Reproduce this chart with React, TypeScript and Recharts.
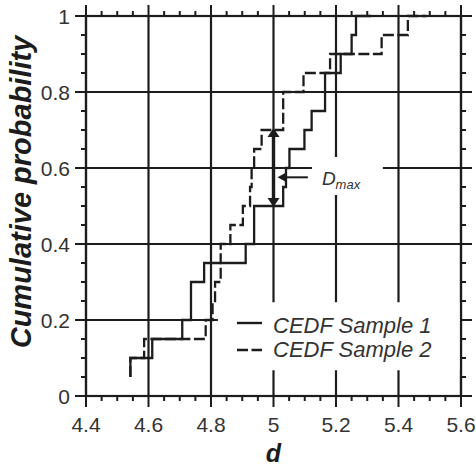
import React from "react";
import {
  LineChart,
  Line,
  XAxis,
  YAxis,
  CartesianGrid,
  ReferenceArea,
  ReferenceLine,
  Legend,
} from "recharts";

// sorted sample values (20 each)
const sample1 = [
  4.542, 4.542, 4.612, 4.708, 4.736, 4.736, 4.778, 4.911, 4.938, 4.938,
  5.031, 5.04, 5.051, 5.099, 5.122, 5.165, 5.165, 5.215, 5.25, 5.264,
];
const sample2 = [
  4.542, 4.542, 4.586, 4.783, 4.805, 4.813, 4.831, 4.831, 4.862, 4.902,
  4.925, 4.93, 4.938, 4.962, 5.031, 5.031, 5.096, 5.181, 5.346, 5.43,
];
const cedfLevels = [
  0.05, 0.1, 0.15, 0.2, 0.25, 0.3, 0.35, 0.4, 0.45, 0.5,
  0.55, 0.6, 0.65, 0.7, 0.75, 0.8, 0.85, 0.9, 0.95, 1,
];
// where each curve stops drawing at 1.0
const tail1 = 5.312;
const tail2 = 5.49;

// Dmax: gap between the two curves at d = 5
const dmaxAt = 5;
const dmaxLow = 0.5;
const dmaxHigh = 0.7;

const X_MIN = 4.4;
const X_MAX = 5.6;
const xTicks = [4.4, 4.6, 4.8, 5, 5.2, 5.4, 5.6];
const yTicks = [0, 0.2, 0.4, 0.6, 0.8, 1];
const xMinor = Array.from({ length: 25 }, (_, i) => +(4.4 + i * 0.05).toFixed(2));
const yMinor = Array.from({ length: 21 }, (_, i) => +(i * 0.05).toFixed(2));

const INK = "#1c1c1c";
const TEXT = "#333";
const FONT = "'Liberation Sans', Arial, sans-serif";

const cedf1 = sample1.map((d, i) => ({ d, p: cedfLevels[i] })).concat({ d: tail1, p: 1 });
const cedf2 = sample2.map((d, i) => ({ d, p: cedfLevels[i] })).concat({ d: tail2, p: 1 });

const isMajor = (v: number) => Math.abs(v * 5 - Math.round(v * 5)) < 1e-6;
const fmt = (v: number) => String(+v.toFixed(1));

// frame: outward ticks, tick labels and axis titles. The segment spans the
// plot corners, so its end points give the scale.
function Frame(props: any) {
  const left = Math.min(Number(props.x1), Number(props.x2));
  const right = Math.max(Number(props.x1), Number(props.x2));
  const top = Math.min(Number(props.y1), Number(props.y2));
  const bottom = Math.max(Number(props.y1), Number(props.y2));
  const px = (v: number) => left + ((v - X_MIN) / (X_MAX - X_MIN)) * (right - left);
  const py = (v: number) => bottom - v * (bottom - top);
  const marks: React.ReactNode[] = [];
  xMinor.forEach((v, i) => {
    const len = isMajor(v) ? 11 : 5;
    const x = px(v);
    marks.push(<line key={`b${i}`} x1={x} x2={x} y1={bottom} y2={bottom + len} stroke={INK} strokeWidth={2} />);
    marks.push(<line key={`t${i}`} x1={x} x2={x} y1={top} y2={top - len} stroke={INK} strokeWidth={2} />);
  });
  yMinor.forEach((v, i) => {
    const len = isMajor(v) ? 11 : 5;
    const y = py(v);
    marks.push(<line key={`l${i}`} x1={left} x2={left - len} y1={y} y2={y} stroke={INK} strokeWidth={2} />);
    marks.push(<line key={`r${i}`} x1={right} x2={right + len} y1={y} y2={y} stroke={INK} strokeWidth={2} />);
  });
  return (
    <g fontFamily={FONT}>
      <rect x={left} y={top} width={right - left} height={bottom - top} fill="none" stroke={INK} strokeWidth={2.2} />
      {marks}
      {xTicks.map((v) => (
        <text key={`x${v}`} x={px(v)} y={bottom + 35.5} textAnchor="middle" fontSize={21} fill={TEXT}>
          {fmt(v)}
        </text>
      ))}
      {yTicks.map((v) => (
        <text key={`y${v}`} x={left - 16} y={py(v) + 7.5} textAnchor="end" fontSize={21} fill={TEXT}>
          {fmt(v)}
        </text>
      ))}
      <text x={(left + right) / 2} y={bottom + 66} textAnchor="middle" fontSize={25} fontWeight="bold" fontStyle="italic" fill={INK}>
        d
      </text>
      <text
        transform={`translate(${left - 55}, ${(top + bottom) / 2 - 14}) rotate(-90)`}
        textAnchor="middle"
        fontSize={29}
        fontWeight="bold"
        fontStyle="italic"
        fill={INK}
      >
        Cumulative probability
      </text>
    </g>
  );
}

function DoubleArrow(props: any) {
  const { x1, y1, y2 } = props;
  const top = Math.min(y1, y2) - 2;
  const bot = Math.max(y1, y2) + 1;
  const hw = 6;
  const hh = 9;
  return (
    <g>
      <line x1={x1} x2={x1} y1={top + hh} y2={bot - hh} stroke={INK} strokeWidth={3.4} />
      <polygon points={`${x1},${top} ${x1 - hw},${top + hh} ${x1 + hw},${top + hh}`} fill={INK} />
      <polygon points={`${x1},${bot} ${x1 - hw},${bot - hh} ${x1 + hw},${bot - hh}`} fill={INK} />
    </g>
  );
}

function DmaxPointer(props: any) {
  const { x1, y1, x2, y2 } = props;
  return (
    <g>
      <line x1={x1} x2={x2 + 8} y1={y1} y2={y2} stroke={INK} strokeWidth={2} />
      <polygon points={`${x2},${y2} ${x2 + 9},${y2 - 5} ${x2 + 9},${y2 + 5}`} fill={INK} />
      <text x={x1 + 14} y={y1 + 8} fontStyle="italic" fontSize={19} fill={TEXT} fontFamily={FONT}>
        D
        <tspan fontSize={13} dy={4}>
          max
        </tspan>
      </text>
    </g>
  );
}

function LegendBox() {
  return (
    <svg width={232} height={62} style={{ display: "block", overflow: "visible" }}>
      <line x1={5} x2={30} y1={18} y2={18} stroke={INK} strokeWidth={2.4} />
      <text x={41} y={27.5} fontStyle="italic" fontSize={22} fill={TEXT} fontFamily={FONT}>
        CEDF Sample 1
      </text>
      <line x1={5} x2={30} y1={45} y2={45} stroke={INK} strokeWidth={2.4} strokeDasharray="11 3.5" />
      <text x={41} y={51.5} fontStyle="italic" fontSize={22} fill={TEXT} fontFamily={FONT}>
        CEDF Sample 2
      </text>
    </svg>
  );
}

export default function App() {
  return (
    <div style={{ position: "absolute", left: 0, top: 0, fontFamily: FONT }}>
      <LineChart width={476} height={467} margin={{ top: 16, right: 15, bottom: 71, left: 86 }}>
        <CartesianGrid stroke={INK} strokeWidth={2.2} verticalValues={xTicks} horizontalValues={yTicks} />
        <XAxis dataKey="d" type="number" domain={[X_MIN, X_MAX]} ticks={xTicks} hide />
        <YAxis type="number" domain={[0, 1]} ticks={yTicks} hide />
        {/* white patches behind the legend and the Dmax label */}
        <ReferenceArea x1={4.822} x2={5.597} y1={0.068} y2={0.247} fill="#fff" fillOpacity={1} stroke="none" />
        <ReferenceArea x1={5.123} x2={5.35} y1={0.529} y2={0.629} fill="#fff" fillOpacity={1} stroke="none" />
        <Line
          data={cedf1}
          dataKey="p"
          type="stepAfter"
          stroke={INK}
          strokeWidth={2.3}
          dot={false}
          activeDot={false}
          isAnimationActive={false}
        />
        <Line
          data={cedf2}
          dataKey="p"
          type="stepAfter"
          stroke={INK}
          strokeWidth={2.3}
          strokeDasharray="11 3.5"
          dot={false}
          activeDot={false}
          isAnimationActive={false}
        />
        <ReferenceLine
          segment={[
            { x: dmaxAt, y: dmaxLow },
            { x: dmaxAt, y: dmaxHigh },
          ]}
          shape={<DoubleArrow />}
        />
        <ReferenceLine
          segment={[
            { x: 5.11, y: 0.5755 },
            { x: 5.013, y: 0.5755 },
          ]}
          shape={<DmaxPointer />}
        />
        <ReferenceLine
          segment={[
            { x: X_MIN, y: 0 },
            { x: X_MAX, y: 1 },
          ]}
          ifOverflow="visible"
          zIndex={2000}
          shape={<Frame />}
        />
        <Legend
          layout="horizontal"
          verticalAlign="middle"
          align="center"
          wrapperStyle={{ left: 232, top: 305, width: 232, height: 62 }}
          content={() => <LegendBox />}
        />
      </LineChart>
    </div>
  );
}
